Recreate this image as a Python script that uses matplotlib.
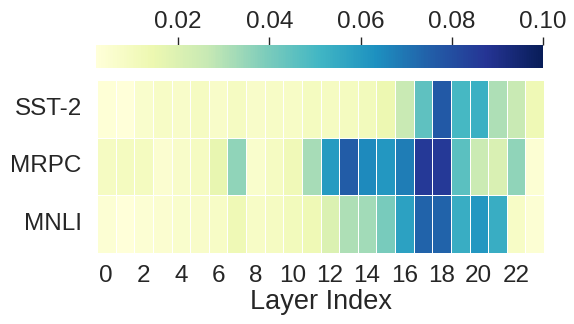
import numpy as np
import matplotlib
matplotlib.use("Agg")
from matplotlib import pyplot as plt
import seaborn as sns

tasks = ["SST-2", "MRPC", "MNLI"]
layers = list(range(24))

# values (per layer)
sst2 = [0.003, 0.002, 0.006, 0.008, 0.007, 0.009, 0.007, 0.009, 0.007, 0.008, 0.008, 0.010,
        0.009, 0.010, 0.011, 0.014, 0.026, 0.045, 0.077, 0.050, 0.053, 0.031, 0.026, 0.013]
mrpc = [0.009, 0.010, 0.010, 0.005, 0.007, 0.009, 0.016, 0.036, 0.006, 0.009, 0.012, 0.032,
        0.060, 0.076, 0.065, 0.061, 0.068, 0.086, 0.086, 0.046, 0.025, 0.021, 0.036, 0.004]
mnli = [0.004, 0.002, 0.004, 0.005, 0.006, 0.007, 0.008, 0.013, 0.008, 0.009, 0.011, 0.013,
        0.020, 0.031, 0.033, 0.040, 0.058, 0.074, 0.074, 0.054, 0.061, 0.054, 0.008, 0.004]
cbar_ticks = [0.02, 0.04, 0.06, 0.08, 0.10]

sns.set_theme(style="white")
plt.rcParams['font.family'] = ['Liberation Sans', 'DejaVu Sans']

data = np.array([sst2, mrpc, mnli])

W, H = 574, 324
fig = plt.figure(figsize=(W / 100, H / 100), dpi=100)
ax = fig.add_axes([97 / W, 1 - 253 / H, 447 / W, 173 / H])
cax = fig.add_axes([96 / W, 1 - 68 / H, 447 / W, 23 / H])

sns.heatmap(data, ax=ax, cbar_ax=cax, cmap="YlGnBu", vmin=0.002, vmax=0.10,
            linewidths=0.6, linecolor="white",
            cbar_kws={"orientation": "horizontal", "ticks": cbar_ticks})

# colorbar ticks on top
cax.xaxis.set_ticks_position("top")
cax.xaxis.set_ticklabels(["%.2f" % t for t in cbar_ticks])
cax.tick_params(axis="x", length=6, width=1, color="#262626", pad=3,
                labelsize=17.5, labelcolor="#262626")
for s in cax.spines.values():
    s.set_visible(False)

ax.set_xticks(np.arange(0, 24, 2) + 0.5)
ax.set_xticklabels([str(l) for l in layers[::2]], rotation=0)
ax.set_yticks(np.arange(3) + 0.5)
ax.set_yticklabels(tasks, rotation=0)
ax.tick_params(axis="x", length=0, pad=9, labelsize=17.5, labelcolor="#262626")
ax.tick_params(axis="y", length=0, pad=11, labelsize=17.5, labelcolor="#262626")
ax.set_xlabel("Layer Index", fontsize=19.5, color="#262626", labelpad=1)

fig.savefig("out.png", dpi=100)
